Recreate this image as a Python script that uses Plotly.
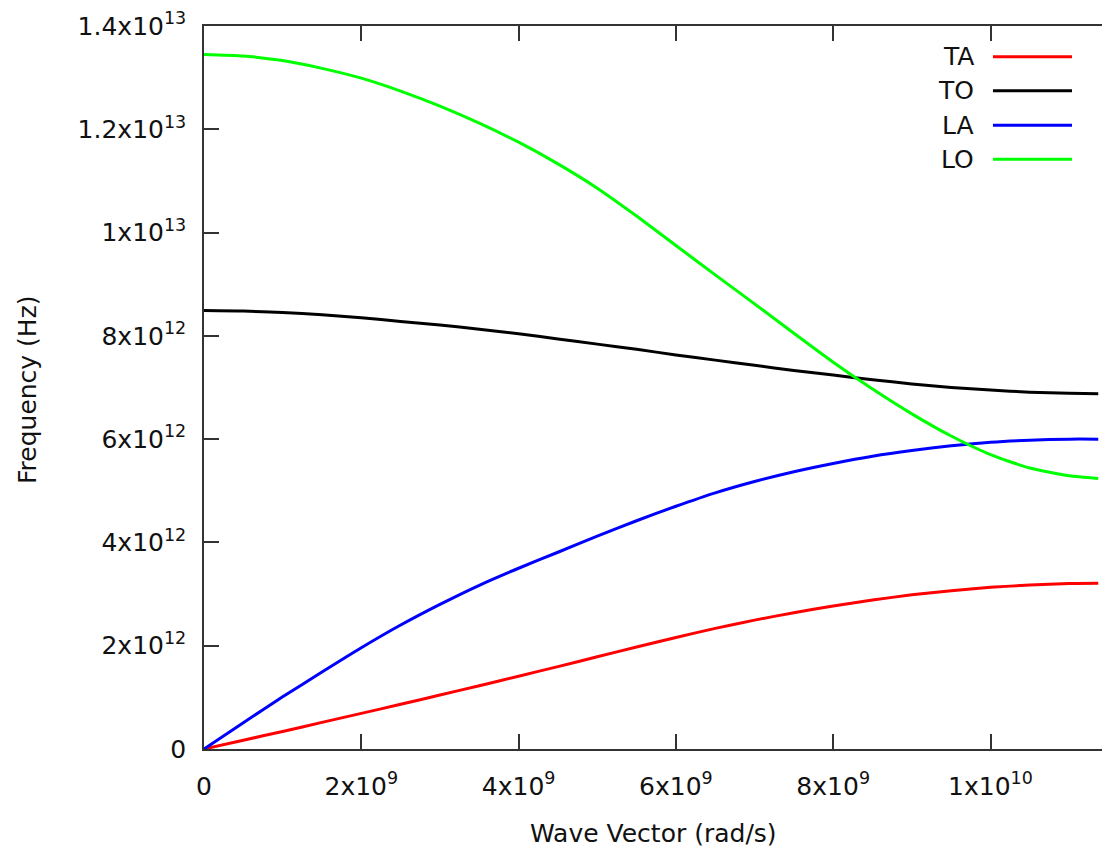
import plotly.graph_objects as go

# ---- data ----
wave_vector = [0, 0.5e9, 1e9, 1.5e9, 2e9, 2.5e9, 3e9, 3.5e9, 4e9, 4.5e9, 5e9, 5.5e9, 6e9,
               6.5e9, 7e9, 7.5e9, 8e9, 8.5e9, 9e9, 9.5e9, 1e10, 1.05e10, 1.1e10, 1.137e10]
ta = [0, 0.17e12, 0.34e12, 0.515e12, 0.69e12, 0.865e12, 1.045e12, 1.225e12, 1.41e12, 1.595e12,
      1.785e12, 1.975e12, 2.16e12, 2.335e12, 2.495e12, 2.64e12, 2.77e12, 2.885e12, 2.985e12,
      3.065e12, 3.13e12, 3.175e12, 3.205e12, 3.21e12]
to = [8.49e12, 8.48e12, 8.45e12, 8.41e12, 8.35e12, 8.28e12, 8.21e12, 8.13e12, 8.04e12, 7.94e12,
      7.84e12, 7.74e12, 7.63e12, 7.53e12, 7.43e12, 7.33e12, 7.24e12, 7.15e12, 7.07e12, 7.00e12,
      6.95e12, 6.91e12, 6.89e12, 6.88e12]
la = [0, 0.51e12, 1.01e12, 1.49e12, 1.96e12, 2.40e12, 2.80e12, 3.17e12, 3.50e12, 3.81e12,
      4.12e12, 4.42e12, 4.70e12, 4.96e12, 5.18e12, 5.37e12, 5.53e12, 5.67e12, 5.78e12, 5.87e12,
      5.94e12, 5.98e12, 6.00e12, 6.00e12]
lo = [13.45e12, 13.42e12, 13.33e12, 13.18e12, 12.99e12, 12.74e12, 12.45e12, 12.12e12, 11.75e12,
      11.33e12, 10.86e12, 10.32e12, 9.75e12, 9.18e12, 8.62e12, 8.05e12, 7.49e12, 6.97e12, 6.49e12,
      6.06e12, 5.70e12, 5.44e12, 5.29e12, 5.24e12]

series_names = ["TA", "TO", "LA", "LO"]
series_values = [ta, to, la, lo]
series_colors = ["#ff0000", "#000000", "#0000ff", "#00ff00"]

x_tick_vals = [0, 2e9, 4e9, 6e9, 8e9, 1e10]
x_tick_text = ["0", "2x10<sup>9</sup>", "4x10<sup>9</sup>", "6x10<sup>9</sup>", "8x10<sup>9</sup>", "1x10<sup>10</sup>"]
y_tick_vals = [0, 2e12, 4e12, 6e12, 8e12, 1e13, 1.2e13, 1.4e13]
y_tick_text = ["0", "2x10<sup>12</sup>", "4x10<sup>12</sup>", "6x10<sup>12</sup>", "8x10<sup>12</sup>",
               "1x10<sup>13</sup>", "1.2x10<sup>13</sup>", "1.4x10<sup>13</sup>"]

W, H = 1102, 852
ML, MR, MT, MB = 204, 0, 26, 103
PW, PH = W - ML - MR, H - MT - MB
FONT = "DejaVu Sans"
TXT = "#111111"
AX = "#333333"

def px_x(p):
    return (p - ML) / PW

def px_y(p):
    return (H - MB - p) / PH

fig = go.Figure()
for name, vals, col in zip(series_names, series_values, series_colors):
    fig.add_trace(go.Scatter(x=wave_vector, y=vals, mode="lines", name=name,
                             line=dict(color=col, width=3, shape="spline", smoothing=0.6),
                             showlegend=False))

# manual legend (text left of line sample, as in the reference)
legend_rows = [56.7, 90.7, 125.3, 159.3]
for name, col, ry in zip(series_names, series_colors, legend_rows):
    fig.add_shape(type="line", xref="paper", yref="paper",
                  x0=px_x(993), x1=px_x(1072), y0=px_y(ry), y1=px_y(ry),
                  line=dict(color=col, width=3))
    fig.add_annotation(text=name, xref="paper", yref="paper", x=px_x(976), y=px_y(ry),
                       xanchor="right", yanchor="middle", showarrow=False,
                       font=dict(family=FONT, size=25, color=TXT))

# axis titles
fig.add_annotation(text="Wave Vector (rad/s)", xref="paper", yref="paper",
                   x=px_x(653), y=px_y(833), xanchor="center", yanchor="middle",
                   showarrow=False, font=dict(family=FONT, size=25, color=TXT))
fig.add_annotation(text="Frequency (Hz)", xref="paper", yref="paper",
                   x=px_x(27), y=px_y(390), xanchor="center", yanchor="middle",
                   textangle=-90, showarrow=False, font=dict(family=FONT, size=25, color=TXT))

x_range = [0, PW / 78.65 * 1e9]
y_range = [0, 1.4e13]

fig.update_layout(
    width=W, height=H,
    margin=dict(l=ML, r=MR, t=MT, b=MB),
    paper_bgcolor="white", plot_bgcolor="white",
    font=dict(family=FONT, size=25, color=TXT),
    showlegend=False,
    xaxis=dict(range=x_range, tickvals=x_tick_vals, ticktext=x_tick_text,
               ticks="inside", ticklen=15, tickwidth=1.5, tickcolor=AX,
               showline=True, linecolor=AX, linewidth=1.5, mirror="ticks",
               showgrid=False, zeroline=False, ticklabelstandoff=14,
               tickfont=dict(family=FONT, size=25, color=TXT)),
    yaxis=dict(range=y_range, tickvals=y_tick_vals, ticktext=y_tick_text,
               ticks="inside", ticklen=15, tickwidth=1.5, tickcolor=AX,
               showline=True, linecolor=AX, linewidth=1.5,
               showgrid=False, zeroline=False, ticklabelstandoff=11,
               tickfont=dict(family=FONT, size=25, color=TXT)),
    yaxis2=dict(range=y_range, tickvals=y_tick_vals, overlaying="y", side="right",
                ticks="inside", ticklen=15, tickwidth=1.5, tickcolor=AX,
                showline=False, showticklabels=False, showgrid=False, zeroline=False),
)

fig.write_html("out.html")
